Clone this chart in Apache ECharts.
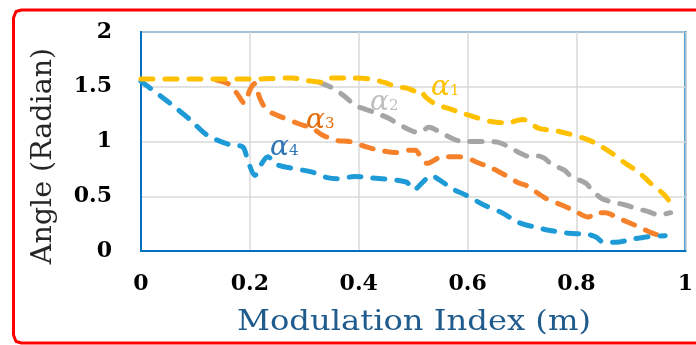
<!DOCTYPE html>
<html>
<head>
<meta charset="utf-8">
<script src="https://cdn.jsdelivr.net/npm/echarts@6/dist/echarts.min.js"></script>
<style>
html,body{margin:0;padding:0;background:#fff;overflow:hidden;}
#c{width:696px;height:345px;}
</style>
</head>
<body>
<div id="c"></div>
<script>
// ---- data ----
const xTicks = ['0', '0.2', '0.4', '0.6', '0.8', '1'];
const yTicks = ['0', '0.5', '1', '1.5', '2'];
const xTitle = 'Modulation Index (m)';
const yTitle = 'Angle (Radian)';

const a1M = [0, 0.1, 0.2, 0.278, 0.30, 0.333, 0.35, 0.388, 0.42, 0.447, 0.469, 0.487, 0.505, 0.511, 0.524, 0.542, 0.566, 0.59, 0.615, 0.645, 0.672, 0.701, 0.731, 0.76, 0.786, 0.813, 0.837, 0.863, 0.89, 0.914, 0.936, 0.96, 0.973];
const a1V = [1.57, 1.57, 1.57, 1.58, 1.56, 1.54, 1.58, 1.58, 1.57, 1.54, 1.50, 1.49, 1.46, 1.47, 1.40, 1.34, 1.30, 1.26, 1.22, 1.18, 1.17, 1.20, 1.12, 1.10, 1.07, 1.03, 0.98, 0.90, 0.80, 0.72, 0.62, 0.52, 0.44];

const a2M = [0.328, 0.355, 0.377, 0.394, 0.432, 0.456, 0.469, 0.496, 0.511, 0.529, 0.548, 0.571, 0.59, 0.634, 0.658, 0.676, 0.698, 0.716, 0.727, 0.74, 0.755, 0.777, 0.791, 0.817, 0.828, 0.846, 0.864, 0.89, 0.908, 0.932, 0.95, 0.973];
const a2V = [1.54, 1.48, 1.40, 1.33, 1.26, 1.21, 1.17, 1.10, 1.08, 1.13, 1.09, 1.03, 1.00, 1.00, 0.99, 0.95, 0.89, 0.86, 0.87, 0.85, 0.79, 0.74, 0.68, 0.62, 0.56, 0.48, 0.45, 0.42, 0.39, 0.36, 0.33, 0.35];

const a3M = [0.139, 0.163, 0.176, 0.19, 0.20, 0.209, 0.218, 0.231, 0.26, 0.291, 0.315, 0.333, 0.359, 0.383, 0.414, 0.438, 0.469, 0.493, 0.504, 0.516, 0.526, 0.553, 0.584, 0.599, 0.617, 0.643, 0.67, 0.694, 0.707, 0.744, 0.773, 0.795, 0.822, 0.835, 0.853, 0.877, 0.896, 0.919, 0.936, 0.96];
const a3V = [1.56, 1.52, 1.44, 1.35, 1.47, 1.53, 1.40, 1.29, 1.22, 1.16, 1.12, 1.06, 1.01, 1.00, 0.95, 0.92, 0.90, 0.92, 0.92, 0.84, 0.80, 0.86, 0.86, 0.85, 0.81, 0.76, 0.69, 0.62, 0.60, 0.48, 0.42, 0.37, 0.31, 0.35, 0.35, 0.30, 0.26, 0.21, 0.17, 0.13];

const a4M = [0, 0.053, 0.09, 0.121, 0.163, 0.187, 0.196, 0.209, 0.222, 0.233, 0.249, 0.273, 0.315, 0.342, 0.364, 0.392, 0.419, 0.487, 0.502, 0.516, 0.533, 0.548, 0.575, 0.597, 0.63, 0.663, 0.694, 0.722, 0.749, 0.78, 0.822, 0.835, 0.85, 0.872, 0.905, 0.932, 0.963];
const a4V = [1.55, 1.35, 1.20, 1.06, 0.97, 0.95, 0.83, 0.69, 0.80, 0.86, 0.79, 0.76, 0.72, 0.67, 0.66, 0.68, 0.67, 0.63, 0.56, 0.62, 0.69, 0.65, 0.56, 0.51, 0.42, 0.35, 0.26, 0.22, 0.19, 0.165, 0.15, 0.13, 0.08, 0.08, 0.11, 0.13, 0.14];

const seriesNames = ['α1', 'α2', 'α3', 'α4'];
// ---------------------------------------

const zip = (m, v) => m.map((x, i) => [x, v[i]]);

const chart = echarts.init(document.getElementById('c'), null, {renderer: 'canvas'});

const dashStyle = (color) => ({
  color: color,
  width: 5,
  type: [12, 12],
  cap: 'round',
  join: 'round'
});

function mkSeries(name, data, color, z) {
  return {
    name: name,
    type: 'line',
    data: data,
    smooth: 0.3,
    showSymbol: false,
    symbol: 'none',
    lineStyle: dashStyle(color),
    z: z,
    animation: false
  };
}

const tickFont = {
  fontFamily: 'DejaVu Serif',
  fontWeight: 'bold',
  fontSize: 22,
  color: '#000'
};

function greek(label, color, x, y) {
  return {
    type: 'text',
    left: x,
    top: y,
    z: 100,
    style: {
      text: '{a|α}{s|' + label.slice(1) + '}',
      rich: {
        a: {fontFamily: 'DejaVu Serif', fontStyle: 'italic', fontSize: 28, fill: color, color: color, verticalAlign: 'bottom'},
        s: {fontFamily: 'DejaVu Serif', fontSize: 15, fill: color, color: color, verticalAlign: 'bottom', padding: [0, 0, 3, 0]}
      }
    }
  };
}

chart.setOption({
  animation: false,
  backgroundColor: '#fff',
  grid: {
    left: 141, top: 32, right: 9, bottom: 94,
    show: true,
    borderColor: '#0070C0',
    borderWidth: 2,
    backgroundColor: 'transparent'
  },
  xAxis: {
    type: 'value',
    min: 0, max: 1, interval: 0.2,
    axisLine: {show: true, lineStyle: {color: '#0070C0', width: 2}},
    axisTick: {show: false},
    splitLine: {show: true, lineStyle: {color: '#D9D9D9', width: 1.5}},
    axisLabel: Object.assign({margin: 22, formatter: (v) => xTicks[Math.round(v / 0.2)]}, tickFont)
  },
  yAxis: {
    type: 'value',
    min: 0, max: 2, interval: 0.5,
    axisLine: {show: true, lineStyle: {color: '#0070C0', width: 2}},
    axisTick: {show: false},
    splitLine: {show: true, lineStyle: {color: '#D9D9D9', width: 1.5}},
    axisLabel: Object.assign({margin: 29, formatter: (v) => yTicks[Math.round(v / 0.5)]}, tickFont)
  },
  series: [
    mkSeries(seriesNames[2], zip(a3M, a3V), '#F5822A', 2),
    mkSeries(seriesNames[3], zip(a4M, a4V), '#1E9BD7', 3),
    mkSeries(seriesNames[1], zip(a2M, a2V), '#A5A5A5', 4),
    mkSeries(seriesNames[0], zip(a1M, a1V), '#FFC000', 5)
  ],
  graphic: [
    {
      type: 'polyline',
      z: 200,
      shape: {
        points: [[698, 10], [21.5, 10], [16, 11.5], [13.5, 18], [13.5, 335], [16, 341.5], [21.5, 343], [698, 343]]
      },
      style: {fill: null, stroke: '#FF0000', lineWidth: 3, lineJoin: 'round'}
    },
    {
      type: 'text',
      z: 100,
      x: 414, y: 323,
      scaleX: 1.15,
      style: {
        text: xTitle, x: 0, y: 0, align: 'center', verticalAlign: 'middle',
        fontFamily: 'DejaVu Serif', fontSize: 28, fill: '#1F5B8C'
      }
    },
    {
      type: 'text',
      z: 100,
      x: 43.5, y: 156,
      rotation: Math.PI / 2,
      style: {
        text: yTitle, x: 0, y: 0, align: 'center', verticalAlign: 'middle',
        fontFamily: 'DejaVu Serif', fontSize: 28.5, fill: '#262626'
      }
    },
    greek(seriesNames[0], '#FFC000', 431, 74),
    greek(seriesNames[1], '#BFBFBF', 370, 89),
    greek(seriesNames[2], '#E46C0A', 306, 107),
    greek(seriesNames[3], '#2E75B6', 270, 134)
  ]
});
</script>
</body>
</html>
